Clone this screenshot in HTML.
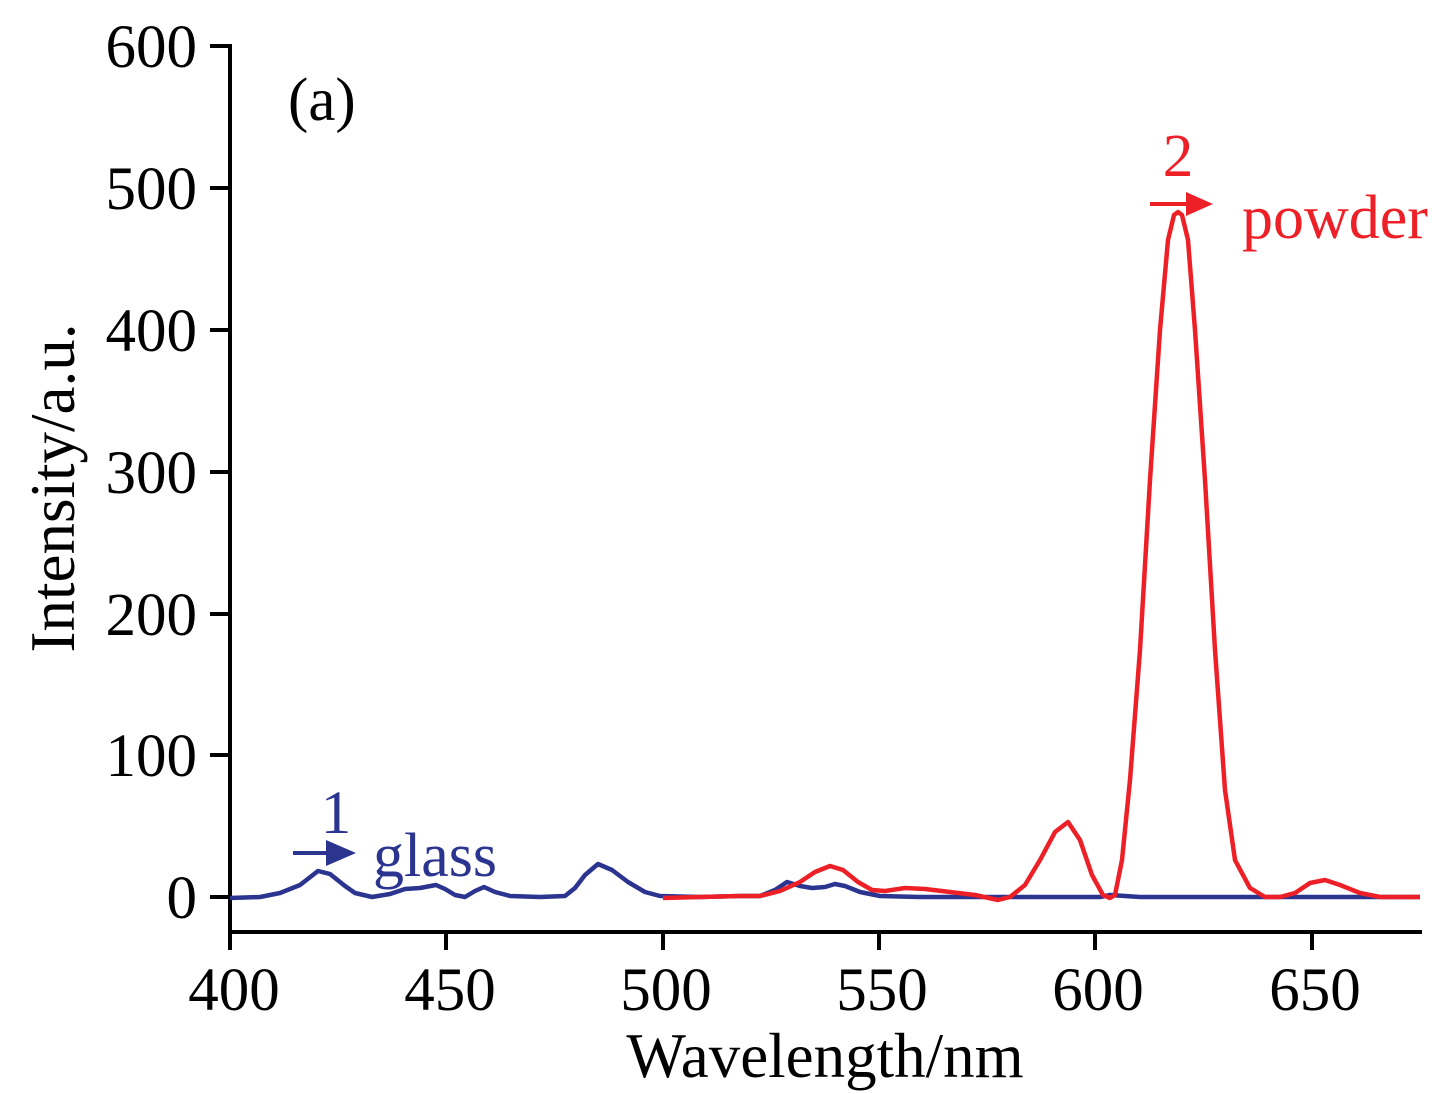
<!DOCTYPE html>
<html><head><style>body{margin:0;background:#fff}svg{display:block}</style></head><body>
<svg width="1432" height="1094" xmlns="http://www.w3.org/2000/svg" font-family="Liberation Serif, serif">
<rect width="1432" height="1094" fill="#fff"/>
<g stroke="#000" stroke-width="4" fill="none">
<line x1="230" y1="44" x2="230" y2="934"/>
<line x1="228" y1="932" x2="1422" y2="932"/>
<line x1="210" y1="46" x2="230" y2="46"/><line x1="210" y1="188" x2="230" y2="188"/><line x1="210" y1="330" x2="230" y2="330"/><line x1="210" y1="472" x2="230" y2="472"/><line x1="210" y1="614" x2="230" y2="614"/><line x1="210" y1="755" x2="230" y2="755"/><line x1="210" y1="897" x2="230" y2="897"/>
<line x1="230" y1="932" x2="230" y2="950"/><line x1="446" y1="932" x2="446" y2="950"/><line x1="663" y1="932" x2="663" y2="950"/><line x1="879" y1="932" x2="879" y2="950"/><line x1="1095" y1="932" x2="1095" y2="950"/><line x1="1312" y1="932" x2="1312" y2="950"/>
</g>
<g font-size="61" text-anchor="end" fill="#000">
<text x="197" y="67">600</text><text x="197" y="209">500</text><text x="197" y="351">400</text><text x="197" y="493">300</text><text x="197" y="635">200</text><text x="197" y="776">100</text><text x="197" y="918">0</text>
</g>
<g font-size="61" text-anchor="middle" fill="#000">
<text x="234" y="1010">400</text><text x="450" y="1010">450</text><text x="666" y="1010">500</text><text x="882" y="1010">550</text><text x="1098" y="1010">600</text><text x="1315" y="1010">650</text>
<text x="825" y="1077" font-size="63">Wavelength/nm</text>
<text transform="translate(74,488) rotate(-90)" font-size="63">Intensity/a.u.</text>
</g>
<text x="288" y="120" font-size="61">(a)</text>
<polyline fill="none" stroke="#2b3590" stroke-width="4.5" stroke-linejoin="round" points="230,898 260,897 280,893 300,885 318,871 330,874 345,886 355,893 372,897 390,894 405,889 420,888 436,885 445,889 455,895 465,897 475,891 484,887 495,892 510,896 540,897 565,896 575,888 585,875 598,864 612,870 628,882 645,892 660,896 700,897 740,896 760,896 775,890 787,882 800,886 812,888 825,887 835,884 845,886 860,892 880,896 920,897 1000,897 1100,897 1110,895 1140,897 1420,897"/>
<polyline fill="none" stroke="#ee2027" stroke-width="4.5" stroke-linejoin="round" points="663,898 700,897 740,896 760,896 780,891 800,882 815,872 830,866 843,870 858,882 872,890 885,891 905,888 925,889 950,892 975,895 998,900 1010,897 1025,885 1040,860 1055,832 1068,822 1080,840 1092,875 1103,895 1110,898 1115,895 1122,860 1130,780 1140,650 1150,480 1160,330 1168,240 1174,215 1178,212 1182,215 1188,240 1195,330 1205,480 1215,650 1225,790 1235,860 1250,888 1265,897 1280,897 1295,893 1310,883 1325,880 1340,885 1360,893 1380,897 1420,897"/>
<g fill="#ee2027">
<text x="1178" y="176" font-size="61" text-anchor="middle">2</text>
<line x1="1150" y1="204" x2="1190" y2="204" stroke="#ee2027" stroke-width="4"/>
<polygon points="1186,192 1213,204 1186,216"/>
<text x="1242" y="238" font-size="62">powder</text>
</g>
<g fill="#2b3590">
<text x="336" y="833" font-size="61" text-anchor="middle">1</text>
<line x1="293" y1="853" x2="330" y2="853" stroke="#2b3590" stroke-width="4"/>
<polygon points="326,840 356,853 326,866"/>
<text x="373" y="876" font-size="62">glass</text>
</g>
</svg>
</body></html>
